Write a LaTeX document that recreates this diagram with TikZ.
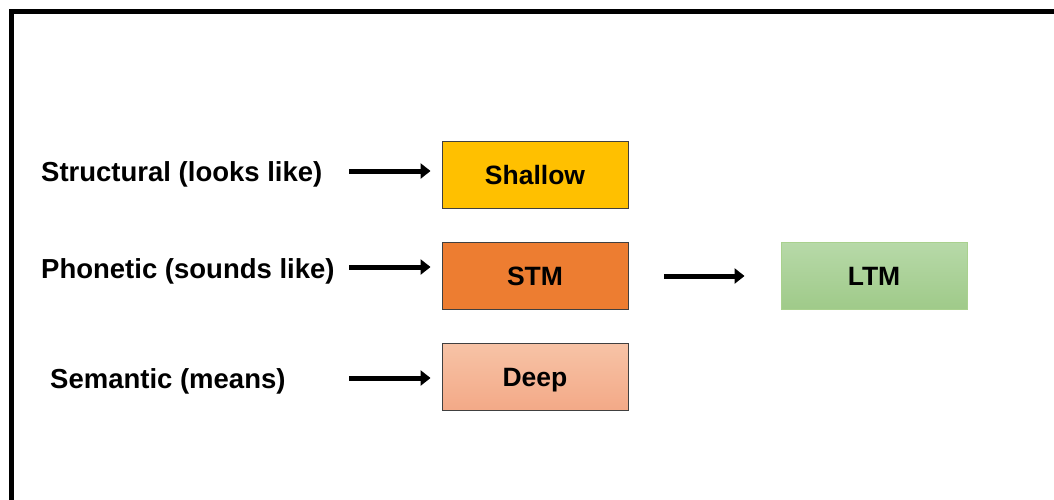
\documentclass[tikz,border=0pt]{standalone}
\usepackage{fontspec}
\setmainfont{Liberation Sans}
\usetikzlibrary{arrows.meta}
\definecolor{shallowc}{HTML}{FFC000}
\definecolor{stmc}{HTML}{ED7D31}
\definecolor{deeptop}{HTML}{F7C3A6}
\definecolor{deepbot}{HTML}{F3A987}
\definecolor{ltmtop}{HTML}{B7D9A8}
\definecolor{ltmbot}{HTML}{9FCA89}
\definecolor{ltmborder}{HTML}{A9D18E}
\definecolor{boxborder}{HTML}{404040}
\begin{document}
\begin{tikzpicture}[x=1pt,y=-1pt,
  lbl/.style={anchor=base west,inner sep=0pt,font=\fontsize{27.5}{30}\selectfont\bfseries},
  box/.style={minimum width=186pt,minimum height=67pt,inner sep=0pt,text height=19pt,text depth=0pt,draw=boxborder,line width=0.9pt,font=\fontsize{26.5}{30}\selectfont\bfseries},
  arr/.style={line width=5pt,-{Triangle[length=10pt,width=15pt]}}]
\useasboundingbox (0,0) rectangle (1054,499);
\clip (0,0) rectangle (1054,499);
\draw[line width=5pt] (11,510) -- (11,11) -- (1065,11);
% boxes
\node[box,fill=shallowc] (shallow) at (535,175) {Shallow};
\node[box,fill=stmc] (stm) at (535,276) {STM};
\node[box,top color=deeptop,bottom color=deepbot] (deep) at (535,377) {Deep};
\node[box,draw=ltmborder,top color=ltmtop,bottom color=ltmbot] (ltm) at (874,276) {LTM};
% labels
\node[lbl] (structural) at (41,181) {Structural (looks like)};
\node[lbl] (phonetic) at (41,278) {Phonetic (sounds like)};
\node[lbl] (semantic) at (50,388) {Semantic (means)};
% arrow start points
\coordinate (a1) at (349,171);
\coordinate (a2) at (349,267);
\coordinate (a3) at (349,378);
\coordinate (a4) at (664,276);
\draw[arr] (a1) -- ([xshift=-11pt]shallow.west |- a1);
\draw[arr] (a2) -- ([xshift=-11pt]stm.west |- a2);
\draw[arr] (a3) -- ([xshift=-11pt]deep.west |- a3);
\draw[arr] (a4) -- ([xshift=-36pt]ltm.west |- a4);
\end{tikzpicture}
\end{document}
